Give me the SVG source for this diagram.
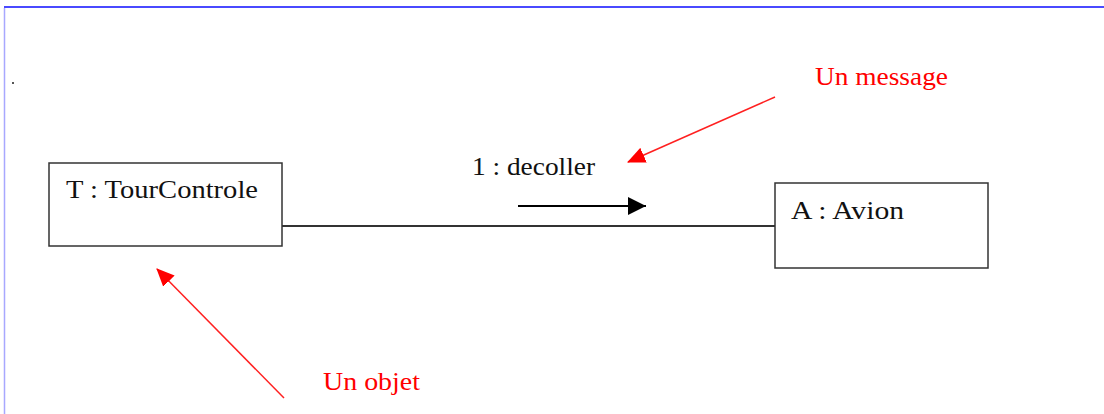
<svg xmlns="http://www.w3.org/2000/svg" width="1104" height="414" viewBox="0 0 1104 414">
<style>
  .box { fill: #ffffff; stroke: #333333; stroke-width: 1.5; }
  .lbl { font-family: "Liberation Serif", "Times New Roman", serif; font-size: 25px; fill: #111111; }
  .note { font-family: "Liberation Serif", "Times New Roman", serif; font-size: 25px; fill: #ff0000; }
  .conn { stroke: #333333; stroke-width: 2; fill: none; }
  .red { stroke: #ff2020; stroke-width: 1.5; fill: none; }
</style>
<defs>
  <marker id="blk" markerWidth="18" markerHeight="18" refX="18" refY="9" orient="auto" markerUnits="userSpaceOnUse" viewBox="0 0 18 18">
    <path d="M0,0 L18,9 L0,18 Z" fill="#000"/>
  </marker>
  <marker id="redh" markerWidth="18" markerHeight="16" refX="17" refY="8" orient="auto" markerUnits="userSpaceOnUse" viewBox="0 0 18 16">
    <path d="M0,0 L18,8 L0,16 Z" fill="#ff0000"/>
  </marker>
</defs>
<rect x="0" y="0" width="1104" height="414" fill="#ffffff"/>
<g id="frame">
  <line x1="4" y1="7" x2="1104" y2="7" stroke="#4a4aff" stroke-width="2"/>
  <line x1="4.5" y1="8" x2="4.5" y2="414" stroke="#a8a8ff" stroke-width="1.5"/>
  <rect x="12" y="82" width="2" height="2" fill="#555"/>
</g>
<g id="connectors">
  <line class="conn" x1="282" y1="226" x2="775" y2="226"/>
  <line x1="518" y1="206" x2="646" y2="206" stroke="#000" stroke-width="2" marker-end="url(#blk)"/>
  <text class="lbl" x="472" y="175" textLength="123" lengthAdjust="spacingAndGlyphs">1 : decoller</text>
</g>
<g id="T">
  <rect class="box" x="49" y="163" width="233" height="83"/>
  <text class="lbl" x="66" y="198" textLength="192" lengthAdjust="spacingAndGlyphs">T : TourControle</text>
</g>
<g id="A">
  <rect class="box" x="775" y="183" width="213" height="85"/>
  <text class="lbl" x="791" y="219" textLength="113" lengthAdjust="spacingAndGlyphs">A : Avion</text>
</g>
<g id="note-message">
  <line class="red" x1="775" y1="97" x2="628" y2="162" marker-end="url(#redh)"/>
  <text class="note" x="815" y="85" textLength="133" lengthAdjust="spacingAndGlyphs">Un message</text>
</g>
<g id="note-objet">
  <line class="red" x1="284" y1="398" x2="157" y2="269" marker-end="url(#redh)"/>
  <text class="note" x="323" y="390" textLength="97" lengthAdjust="spacingAndGlyphs">Un objet</text>
</g>
</svg>
